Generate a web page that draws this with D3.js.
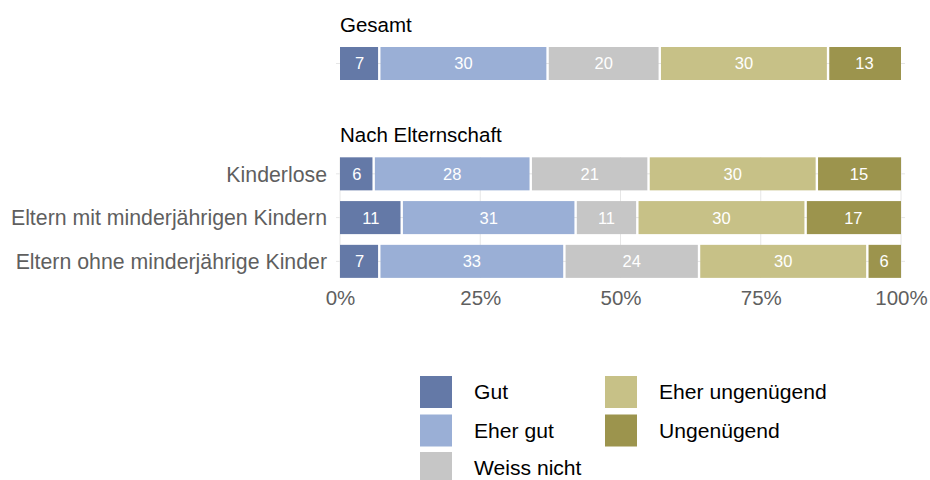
<!DOCTYPE html>
<html>
<head>
<meta charset="utf-8">
<script src="https://cdn.jsdelivr.net/npm/d3@7"></script>
<style>
  html, body { margin: 0; padding: 0; background: #fff; }
  svg { display: block; font-family: "Liberation Sans", Arial, Helvetica, sans-serif; }
</style>
</head>
<body>
<svg id="chart" width="930" height="480"></svg>
<script>
// Answer categories, in stacking order
const categories = ["Gut", "Eher gut", "Weiss nicht", "Eher ungenügend", "Ungenügend"];
const colors = ["#6479a7", "#9aafd6", "#c6c6c6", "#c7c187", "#9c944d"];

// Overall result
const totalGroups = ["Gesamt"];
const totalValues = [[7, 30, 20, 30, 13]];

// Results by parenthood
const parentGroups = ["Kinderlose", "Eltern mit minderjährigen Kindern", "Eltern ohne minderjährige Kinder"];
const parentValues = [
  [6, 28, 21, 30, 15],
  [11, 31, 11, 30, 17],
  [7, 33, 24, 30, 6]
];

const xTicks = [0, 25, 50, 75, 100];
const xTickLabels = ["0%", "25%", "50%", "75%", "100%"];

const svg = d3.select("#chart");
const x = d3.scaleLinear().domain([0, 100]).range([340, 901]);
const color = d3.scaleOrdinal().domain(categories).range(colors);
const gridColor = "#e6e6e6";

function stackRows(groups, values) {
  return groups.map((g, i) => {
    let acc = 0;
    return {
      group: g,
      segs: values[i].map((v, j) => {
        const s = { cat: categories[j], x0: acc, x1: acc + v, v };
        acc += v;
        return s;
      })
    };
  });
}

function drawPanel(title, titleY, groups, values, y, showLabels, showVGrid) {
  const g = svg.append("g");
  const rows = stackRows(groups, values);
  const top = y(groups[0]);
  const bottom = y(groups[groups.length - 1]) + y.bandwidth();

  if (showVGrid) {
    g.selectAll("line.vgrid").data(xTicks).join("line")
      .attr("x1", d => x(d)).attr("x2", d => x(d))
      .attr("y1", top).attr("y2", bottom)
      .attr("stroke", gridColor).attr("stroke-width", 1);
  }
  // horizontal grid lines through each bar, slightly wider than the bars
  g.selectAll("line.hgrid").data(groups).join("line")
    .attr("x1", x(0) - 4).attr("x2", x(100) + 4)
    .attr("y1", d => y(d) + y.bandwidth() / 2)
    .attr("y2", d => y(d) + y.bandwidth() / 2)
    .attr("stroke", gridColor).attr("stroke-width", 1);

  const row = g.selectAll("g.row").data(rows).join("g")
    .attr("transform", d => `translate(0,${y(d.group)})`);

  row.selectAll("rect").data(d => d.segs).join("rect")
    .attr("x", d => x(d.x0) + (d.x0 > 0 ? 1.2 : 0))
    .attr("width", d => x(d.x1) - x(d.x0) - (d.x0 > 0 ? 1.2 : 0) - (d.x1 < 100 ? 1.2 : 0))
    .attr("y", 0)
    .attr("height", y.bandwidth())
    .attr("fill", d => color(d.cat));

  row.selectAll("text").data(d => d.segs).join("text")
    .attr("x", d => (x(d.x0) + x(d.x1)) / 2)
    .attr("y", y.bandwidth() / 2)
    .attr("dy", "0.36em")
    .attr("text-anchor", "middle")
    .attr("fill", "#fff")
    .attr("font-size", 16.5)
    .text(d => d.v);

  svg.append("text")
    .attr("x", x(0)).attr("y", titleY)
    .attr("fill", "#000").attr("font-size", 20.5)
    .text(title);

  if (showLabels) {
    g.selectAll("text.cat").data(groups).join("text")
      .attr("class", "cat")
      .attr("x", 327)
      .attr("y", d => y(d) + y.bandwidth() / 2)
      .attr("dy", "0.36em")
      .attr("text-anchor", "end")
      .attr("fill", "#5f5f5f")
      .attr("font-size", 21.3)
      .text(d => d);
  }
}

const yTotal = d3.scaleBand().domain(totalGroups).range([47, 80]).padding(0);
const yParent = d3.scaleBand().domain(parentGroups).range([146.6, 288.6]).paddingInner(0.245).paddingOuter(0.245);

drawPanel("Gesamt", 31.5, totalGroups, totalValues, yTotal, false, false);
drawPanel("Nach Elternschaft", 142, parentGroups, parentValues, yParent, true, true);

// x axis labels
const xAxis = d3.axisBottom(x).tickValues(xTicks)
  .tickFormat((d, i) => xTickLabels[i]).tickSize(0).tickPadding(0);
const ax = svg.append("g").attr("transform", "translate(0,290)").call(xAxis);
ax.select(".domain").remove();
ax.selectAll("text")
  .attr("font-family", "'Liberation Sans', Arial, Helvetica, sans-serif")
  .attr("font-size", 20.5)
  .attr("fill", "#5f5f5f")
  .attr("dy", "0.75em");

// legend in two columns
const legendPos = [
  [420, 376], [420, 414.5], [420, 452],
  [605, 376], [605, 414.5]
];
const leg = svg.append("g").selectAll("g").data(categories).join("g")
  .attr("transform", (d, i) => `translate(${legendPos[i][0]},${legendPos[i][1]})`);
leg.append("rect").attr("width", 32).attr("height", 32).attr("fill", d => color(d));
leg.append("text")
  .attr("x", 54).attr("y", 16).attr("dy", "0.34em")
  .attr("font-size", 21.1).attr("fill", "#000")
  .text(d => d);
</script>
</body>
</html>
